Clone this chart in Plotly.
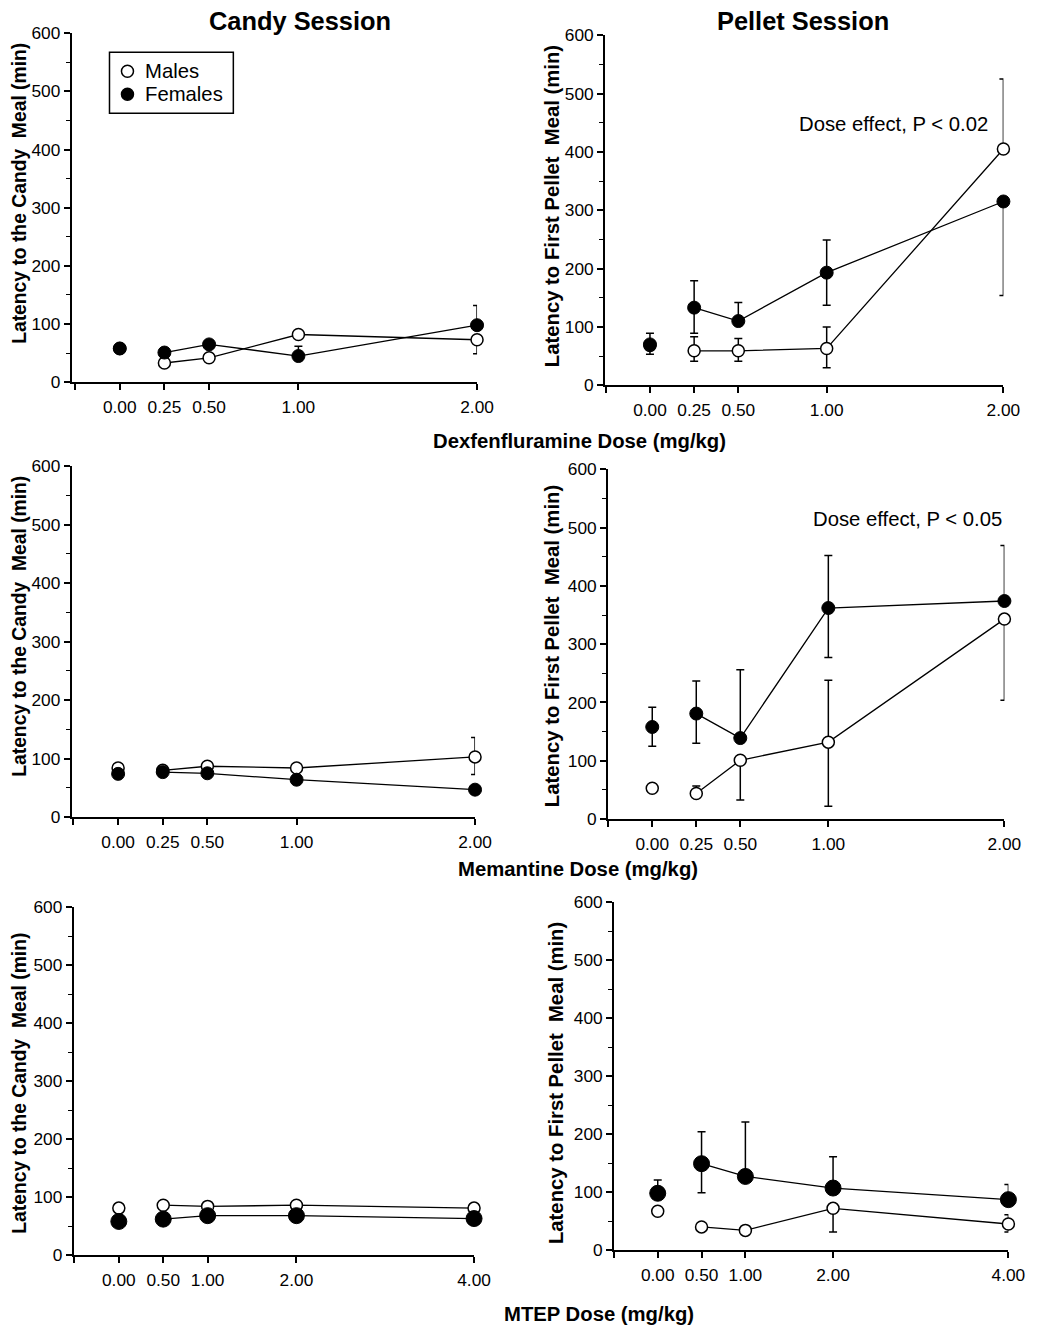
"""
Latency to first meal vs. drug dose - candy / pellet sessions, 3 drugs
"""
import plotly.graph_objects as go

# ========== data ==========
dex_doses = [0, 0.25, 0.5, 1, 2]
mem_doses = [0, 0.25, 0.5, 1, 2]
mtep_doses = [0, 0.5, 1, 2, 4]

# Dexfenfluramine - candy session
dex_candy_m = [58, 33, 42, 82, 73]
dex_candy_m_up = [0, 0, 0, 0, 0]
dex_candy_m_dn = [0, 0, 0, 0, 24]
dex_candy_f = [58, 51, 65, 45, 98]
dex_candy_f_up = [0, 0, 0, 17, 34]
dex_candy_f_dn = [0, 0, 0, 0, 0]

# Dexfenfluramine - pellet session
dex_pellet_m = [68, 59, 59, 63, 405]
dex_pellet_m_up = [0, 24, 21, 37, 120]
dex_pellet_m_dn = [0, 18, 18, 33, 0]
dex_pellet_f = [70, 133, 110, 193, 315]
dex_pellet_f_up = [19, 46, 32, 56, 0]
dex_pellet_f_dn = [17, 44, 0, 56, 161]

# Memantine - candy session
mem_candy_m = [84, 80, 87, 84, 103]
mem_candy_m_up = [0, 0, 0, 0, 33]
mem_candy_m_dn = [0, 0, 0, 0, 30]
mem_candy_f = [74, 77, 75, 64, 47]
mem_candy_f_up = [0, 5, 0, 0, 0]
mem_candy_f_dn = [0, 0, 0, 0, 0]

# Memantine - pellet session
mem_pellet_m = [53, 44, 101, 132, 343]
mem_pellet_m_up = [0, 13, 0, 106, 0]
mem_pellet_m_dn = [0, 0, 68, 110, 139]
mem_pellet_f = [158, 181, 139, 362, 374]
mem_pellet_f_up = [34, 56, 117, 90, 95]
mem_pellet_f_dn = [33, 51, 0, 85, 0]

# MTEP - candy session
mtep_candy_m = [81, 86, 84, 86, 81]
mtep_candy_m_up = [0, 0, 0, 0, 0]
mtep_candy_m_dn = [0, 0, 0, 0, 0]
mtep_candy_f = [58, 62, 68, 68, 63]
mtep_candy_f_up = [0, 0, 0, 0, 0]
mtep_candy_f_dn = [0, 0, 0, 0, 0]

# MTEP - pellet session
mtep_pellet_m = [67, 40, 34, 72, 45]
mtep_pellet_m_up = [0, 0, 0, 0, 16]
mtep_pellet_m_dn = [0, 0, 0, 41, 14]
mtep_pellet_f = [98, 149, 127, 107, 87]
mtep_pellet_f_up = [23, 55, 94, 54, 26]
mtep_pellet_f_dn = [0, 50, 0, 0, 0]

dex_ticks = ["0.00", "0.25", "0.50", "1.00", "2.00"]
mem_ticks = ["0.00", "0.25", "0.50", "1.00", "2.00"]
mtep_ticks = ["0.00", "0.50", "1.00", "2.00", "4.00"]

FONT = "Liberation Sans, Arial, Helvetica, sans-serif"

# the photographed page comes out scaled ~0.985 with the plot offset by the
# body margin, so positions taken off the reference are mapped back here
S = 0.985
OX, OY = 7.5, 17
W, H = 1050, 1322


def px(x):
    return (x / S - OX) / W


def py(y):
    return 1 - (y / S - OY) / H


def fs(n):
    return round(n / S, 1)


# panel pixel boxes (reference coords): (left, right, top, bottom), x-range
panels = [
    dict(box=(71, 477, 32, 381), xr=[-0.27, 2.0], tick0=-0.25),
    dict(box=(605, 1004, 34, 384), xr=[-0.255, 2.0], tick0=-0.25),
    dict(box=(71, 475, 465, 816), xr=[-0.261, 2.0], tick0=-0.25),
    dict(box=(608, 1005, 468, 818), xr=[-0.252, 2.0], tick0=-0.25),
    dict(box=(73, 474, 906, 1254), xr=[-0.51, 4.0], tick0=-0.5),
    dict(box=(614, 1009, 901, 1249), xr=[-0.5, 4.0], tick0=-0.5),
]

fig = go.Figure()


def add_panel(idx, doses, ticks, m, m_up, m_dn, f, f_up, f_dn,
              size_open=12, size_filled=13):
    xa = 'x' if idx == 1 else f'x{idx}'
    ya = 'y' if idx == 1 else f'y{idx}'
    # connecting lines (0.00 point is not connected)
    for ys in (m, f):
        fig.add_trace(go.Scatter(
            x=doses[1:], y=ys[1:], mode='lines',
            line=dict(color='black', width=1.3),
            xaxis=xa, yaxis=ya, showlegend=False, hoverinfo='skip'))
    # males - open circles
    fig.add_trace(go.Scatter(
        x=doses, y=m, mode='markers', name='Males',
        marker=dict(symbol='circle', size=size_open, color='white',
                    line=dict(color='black', width=1.5)),
        error_y=dict(type='data', symmetric=False, array=m_up, arrayminus=m_dn,
                     color='black', thickness=1.5, width=4),
        cliponaxis=False, xaxis=xa, yaxis=ya, showlegend=False))
    # females - filled circles
    fig.add_trace(go.Scatter(
        x=doses, y=f, mode='markers', name='Females',
        marker=dict(symbol='circle', size=size_filled, color='black',
                    line=dict(color='black', width=1)),
        error_y=dict(type='data', symmetric=False, array=f_up, arrayminus=f_dn,
                     color='black', thickness=1.5, width=4),
        cliponaxis=False, xaxis=xa, yaxis=ya, showlegend=False))

    p = panels[idx - 1]
    l, r, t, b = p['box']
    key = '' if idx == 1 else str(idx)
    fig.layout['xaxis' + key] = dict(
        domain=[px(l), px(r)], range=p['xr'], anchor=ya,
        tickvals=[p['tick0']] + doses, ticktext=[''] + ticks,
        showline=True, linecolor='black', linewidth=1.5,
        ticks='outside', ticklen=6, tickwidth=1.5, tickcolor='black',
        ticklabelstandoff=2,
        showgrid=False, zeroline=False,
        tickfont=dict(size=fs(17), family=FONT, color='black'))
    fig.layout['yaxis' + key] = dict(
        domain=[py(b), py(t)], range=[0, 600], anchor=xa,
        tickvals=[0, 100, 200, 300, 400, 500, 600],
        showline=True, linecolor='black', linewidth=1.5,
        ticks='outside', ticklen=6, tickwidth=1.5, tickcolor='black',
        minor=dict(tickvals=[50, 150, 250, 350, 450, 550], ticks='outside',
                   ticklen=4, tickwidth=1.2, tickcolor='black'),
        showgrid=False, zeroline=False,
        tickfont=dict(size=fs(17), family=FONT, color='black'))


add_panel(1, dex_doses, dex_ticks, dex_candy_m, dex_candy_m_up, dex_candy_m_dn,
          dex_candy_f, dex_candy_f_up, dex_candy_f_dn)
add_panel(2, dex_doses, dex_ticks, dex_pellet_m, dex_pellet_m_up, dex_pellet_m_dn,
          dex_pellet_f, dex_pellet_f_up, dex_pellet_f_dn)
add_panel(3, mem_doses, mem_ticks, mem_candy_m, mem_candy_m_up, mem_candy_m_dn,
          mem_candy_f, mem_candy_f_up, mem_candy_f_dn)
add_panel(4, mem_doses, mem_ticks, mem_pellet_m, mem_pellet_m_up, mem_pellet_m_dn,
          mem_pellet_f, mem_pellet_f_up, mem_pellet_f_dn)
add_panel(5, mtep_doses, mtep_ticks, mtep_candy_m, mtep_candy_m_up, mtep_candy_m_dn,
          mtep_candy_f, mtep_candy_f_up, mtep_candy_f_dn, size_open=12, size_filled=16)
add_panel(6, mtep_doses, mtep_ticks, mtep_pellet_m, mtep_pellet_m_up, mtep_pellet_m_dn,
          mtep_pellet_f, mtep_pellet_f_up, mtep_pellet_f_dn, size_open=12, size_filled=16)

# ========== texts ==========
ann = []


def txt(text, x, y, size, bold=False, angle=0, xanchor='center'):
    ann.append(dict(
        text=f'<b>{text}</b>' if bold else text,
        x=px(x), y=py(y), xref='paper', yref='paper',
        xanchor=xanchor, yanchor='middle', showarrow=False, textangle=angle,
        borderpad=0,
        font=dict(size=fs(size), family=FONT, color='black')))


txt('Candy Session', 300, 20, 25, bold=True)
txt('Pellet Session', 803, 20, 25, bold=True)
txt('Dexfenfluramine Dose (mg/kg)', 580, 440, 20, bold=True)
txt('Memantine Dose (mg/kg)', 578, 868, 20, bold=True)
txt('MTEP Dose (mg/kg)', 599, 1313, 20, bold=True)

candy_title = 'Latency to the Candy\u00a0 Meal (min)'
pellet_title = 'Latency to First Pellet\u00a0 Meal (min)'
# left-hand titles: a touch smaller so they stay on the page and off the ticks
txt(candy_title, 19, 192, 19, bold=True, angle=-90)
txt(pellet_title, 552, 205, 20, bold=True, angle=-90)
txt(candy_title, 19, 625, 19, bold=True, angle=-90)
txt(pellet_title, 552, 645, 20, bold=True, angle=-90)
txt(candy_title, 19, 1082, 19, bold=True, angle=-90)
txt(pellet_title, 556, 1082, 20, bold=True, angle=-90)

# dose effect notes
ann.append(dict(text='Dose effect, P < 0.02', x=1.38, y=447, xref='x2', yref='y2',
                showarrow=False, font=dict(size=fs(20), family=FONT, color='black')))
ann.append(dict(text='Dose effect, P < 0.05', x=1.45, y=515, xref='x4', yref='y4',
                showarrow=False, font=dict(size=fs(20), family=FONT, color='black')))

# legend (box, symbols and labels drawn by hand to match the original spacing)
legend_labels = ['Males', 'Females']
legend_fill = ['white', 'black']
legend_rows = [70, 93]
shapes = [dict(type='rect', xref='paper', yref='paper',
               x0=px(109), x1=px(233), y0=py(112), y1=py(51),
               line=dict(color='black', width=1.5), fillcolor='white', layer='below')]
for lab, fill, ry in zip(legend_labels, legend_fill, legend_rows):
    shapes.append(dict(type='circle', xref='paper', yref='paper',
                       xsizemode='pixel', ysizemode='pixel',
                       xanchor=px(127), yanchor=py(ry),
                       x0=-6, x1=6, y0=-6, y1=6,
                       fillcolor=fill, line=dict(color='black', width=1.5)))
    txt(lab, 144, ry, 20, xanchor='left')

fig.update_layout(
    width=W, height=H,
    margin=dict(l=0, r=0, t=0, b=0),
    paper_bgcolor='white', plot_bgcolor='white',
    annotations=ann,
    shapes=shapes,
    showlegend=False,
)

fig.write_html("out.html")
